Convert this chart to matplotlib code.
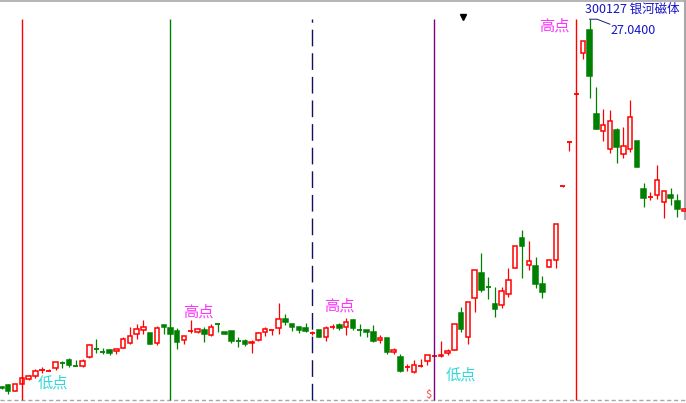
import matplotlib
matplotlib.use("Agg")
import matplotlib.pyplot as plt
from matplotlib.patches import Rectangle

plt.rcParams['font.family'] = ['Noto Sans CJK SC', 'DejaVu Sans']

# daily OHLC
opens = [8.65, 8.735, 8.465, 8.785, 9.065, 9.215, 9.485, 9.45, 9.615, 9.875,
         9.985, 9.725, 9.715, 10.135, 10.55, 10.415, 10.485, 10.435, 10.615, 10.865,
         11.285, 11.485, 11.335, 10.835, 11.75, 11.585, 11.45, 10.985, 11.465, 11.415,
         11.5, 11.235, 11.8, 11.4, 11.45, 10.965, 10.95, 10.835, 11.0, 11.415,
         11.485, 11.585, 12.05, 11.8, 11.635, 11.6, 11.325, 11.5, 11.135, 11.625,
         11.75, 11.635, 12.0, 11.515, 11.5, 11.4, 11.015, 11.1, 10.385, 10.135,
         9.625, 9.385, 9.69, 9.95, 10.21, 10.185, 10.335, 10.485, 12.335, 11.135,
         13.085, 14.335, 13.675, 12.785, 12.735, 13.285, 14.585, 16.085, 14.735, 14.7,
         13.785, 14.635, 14.985, 18.685, 20.915, 23.275, 25.335, 26.5, 22.3, 21.435,
         20.535, 21.5, 20.285, 20.535, 20.95, 18.565, 18.14, 18.25, 17.885, 18.25,
         17.95, 17.435]
closes = [8.585, 8.45, 8.785, 9.085, 9.185, 9.435, 9.5, 9.5, 9.885, 9.85,
          9.75, 9.7, 9.965, 10.75, 10.525, 10.39, 10.335, 10.535, 11.035, 11.185,
          11.535, 11.635, 10.785, 11.6, 11.635, 11.285, 10.915, 11.185, 11.485, 11.55,
          11.285, 11.635, 11.775, 11.315, 10.95, 10.94, 10.815, 10.915, 11.335, 11.535,
          11.5, 12.035, 11.915, 11.665, 11.5, 11.465, 11.335, 11.165, 11.6, 11.635,
          11.585, 11.915, 11.615, 11.49, 11.415, 10.965, 11.115, 10.415, 10.485, 9.465,
          9.635, 9.735, 9.7, 10.235, 10.215, 10.25, 10.45, 11.785, 11.535, 12.885,
          14.485, 13.485, 13.65, 12.565, 13.435, 13.985, 15.685, 15.715, 14.935, 13.815,
          13.385, 14.985, 16.785, 18.715, 20.935, 23.285, 25.935, 24.215, 21.535, 21.75,
          21.95, 20.665, 20.7, 22.15, 19.665, 18.115, 18.15, 19.0, 18.45, 18.115,
          17.535, 17.535]
highs = [8.685, 8.8, 8.785, 9.085, 9.25, 9.535, 9.65, 9.565, 9.885, 9.965,
         10.1, 10.015, 10.065, 10.8, 11.035, 10.585, 10.535, 10.535, 11.165, 11.635,
         11.785, 12.0, 11.335, 11.685, 11.75, 11.585, 11.585, 11.185, 12.0, 11.615,
         11.635, 11.8, 11.8, 11.4, 11.45, 11.165, 11.035, 11.0, 11.4, 11.635,
         11.5, 12.85, 12.285, 11.8, 11.635, 11.865, 11.465, 11.5, 11.715, 11.815,
         11.85, 12.115, 12.05, 11.785, 11.5, 11.75, 11.235, 11.1, 10.615, 10.315,
         9.785, 10.0, 10.05, 10.235, 10.215, 10.95, 10.55, 11.785, 12.635, 12.885,
         14.485, 15.35, 14.15, 13.635, 13.635, 14.585, 15.685, 16.5, 15.95, 15.15,
         14.2, 14.985, 16.785, 18.715, 20.935, 23.285, 25.935, 27.04, 23.665, 22.535,
         22.5, 21.615, 21.665, 23.0, 20.95, 18.865, 18.415, 19.75, 18.45, 18.615,
         18.3, 17.535]
lows = [8.55, 8.285, 8.465, 8.785, 9.0, 9.115, 9.335, 9.45, 9.5, 9.615,
        9.665, 9.7, 9.65, 10.115, 10.335, 10.285, 10.235, 10.285, 10.585, 10.815,
        11.035, 11.3, 10.785, 10.765, 11.285, 11.285, 10.55, 10.815, 11.365, 11.365,
        10.915, 11.185, 11.415, 11.315, 10.835, 10.665, 10.715, 10.365, 10.965, 11.215,
        11.25, 11.315, 11.75, 11.465, 11.335, 11.385, 11.25, 11.165, 10.95, 11.535,
        11.5, 11.265, 11.5, 11.215, 11.165, 10.9, 10.865, 10.285, 10.285, 9.4,
        9.45, 9.335, 9.635, 9.75, 10.21, 10.165, 10.265, 10.485, 11.385, 10.785,
        12.415, 13.385, 13.065, 12.165, 12.615, 13.135, 14.585, 14.085, 14.5, 13.615,
        13.115, 14.635, 14.615, 18.665, 20.465, 23.275, 25.035, 23.085, 21.535, 20.965,
        20.335, 19.835, 20.085, 20.415, 19.665, 17.665, 18.0, 18.035, 17.115, 17.75,
        17.165, 17.435]

# marked days: (index, colour, style)
mark_days = [3, 25, 46, 64, 85]
mark_colors = ['#ff0000', '#008000', '#101060', '#800080', '#ff0000']
mark_styles = ['-', '-', (0, (12, 5)), '-', '-']

RED = '#ff0000'
GREEN = '#008000'

fig = plt.figure(figsize=(6.86, 4.03), dpi=100)
ax = fig.add_axes([0, 0, 1, 1])
ax.set_xlim(-0.222, 101.26)
ax.set_ylim(7.85, 28.0)
ax.axis('off')

w = 0.66
for i in range(len(opens)):
    o, h, l, c = opens[i], highs[i], lows[i], closes[i]
    up = c >= o
    col = RED if up else GREEN
    ax.vlines(i, l, h, color=col, lw=0.9, zorder=2)
    if abs(c - o) < 0.06:
        ax.hlines((o + c) / 2, i - w / 2 - 0.05, i + w / 2 + 0.05, color=col, lw=1.3, zorder=3)
    else:
        ax.add_patch(Rectangle((i - w / 2, min(o, c)), w, abs(c - o),
                               facecolor='white' if up else GREEN,
                               edgecolor=col, lw=1.1, zorder=3))

for d, col, ls in zip(mark_days, mark_colors, mark_styles):
    ax.vlines(d, 8.0, 27.05, color=col, lw=1.0, linestyles=[ls], zorder=4)

# frame bits
ax.axhline(27.95, color='#a8a8a8', lw=1.2, zorder=1)
ax.vlines(101.11, 17.0, 28.0, color='#a8a8a8', lw=1.5, zorder=1)
ax.axhline(7.98, color='#a8a8a8', lw=1.0, linestyle=(0, (3, 2)), zorder=1)

# labels
lbl = dict(fontsize=11, ha='center', va='center', zorder=5)
ax.text(7.62, 8.83, '低点', color='#30d8d8', **lbl)
ax.text(67.97, 9.27, '低点', color='#30d8d8', **lbl)
ax.text(29.14, 12.4, '高点', color='#ff33ff', **lbl)
ax.text(49.93, 12.7, '高点', color='#ff33ff', **lbl)
ax.text(81.73, 26.7, '高点', color='#ff33ff', **lbl)

ax.text(86.3, 27.55, '300127 银河磁体', color='#1414c8', fontsize=9,
        ha='left', va='center', zorder=5)
ax.text(90.1, 26.47, '27.0400', color='#1414c8', fontsize=9,
        ha='left', va='center', zorder=5)
ax.plot([87, 88.1, 90.0], [27.04, 27.04, 26.79], color='#1a1a80', lw=0.7, zorder=5)

ax.text(63.17, 8.25, '$', color='#ff4040', fontsize=8, ha='center', va='center', zorder=5)
ax.plot([68.2], [27.15], marker='v', color='black', markersize=5, zorder=5)

fig.savefig('out.png', dpi=100, facecolor='white')
